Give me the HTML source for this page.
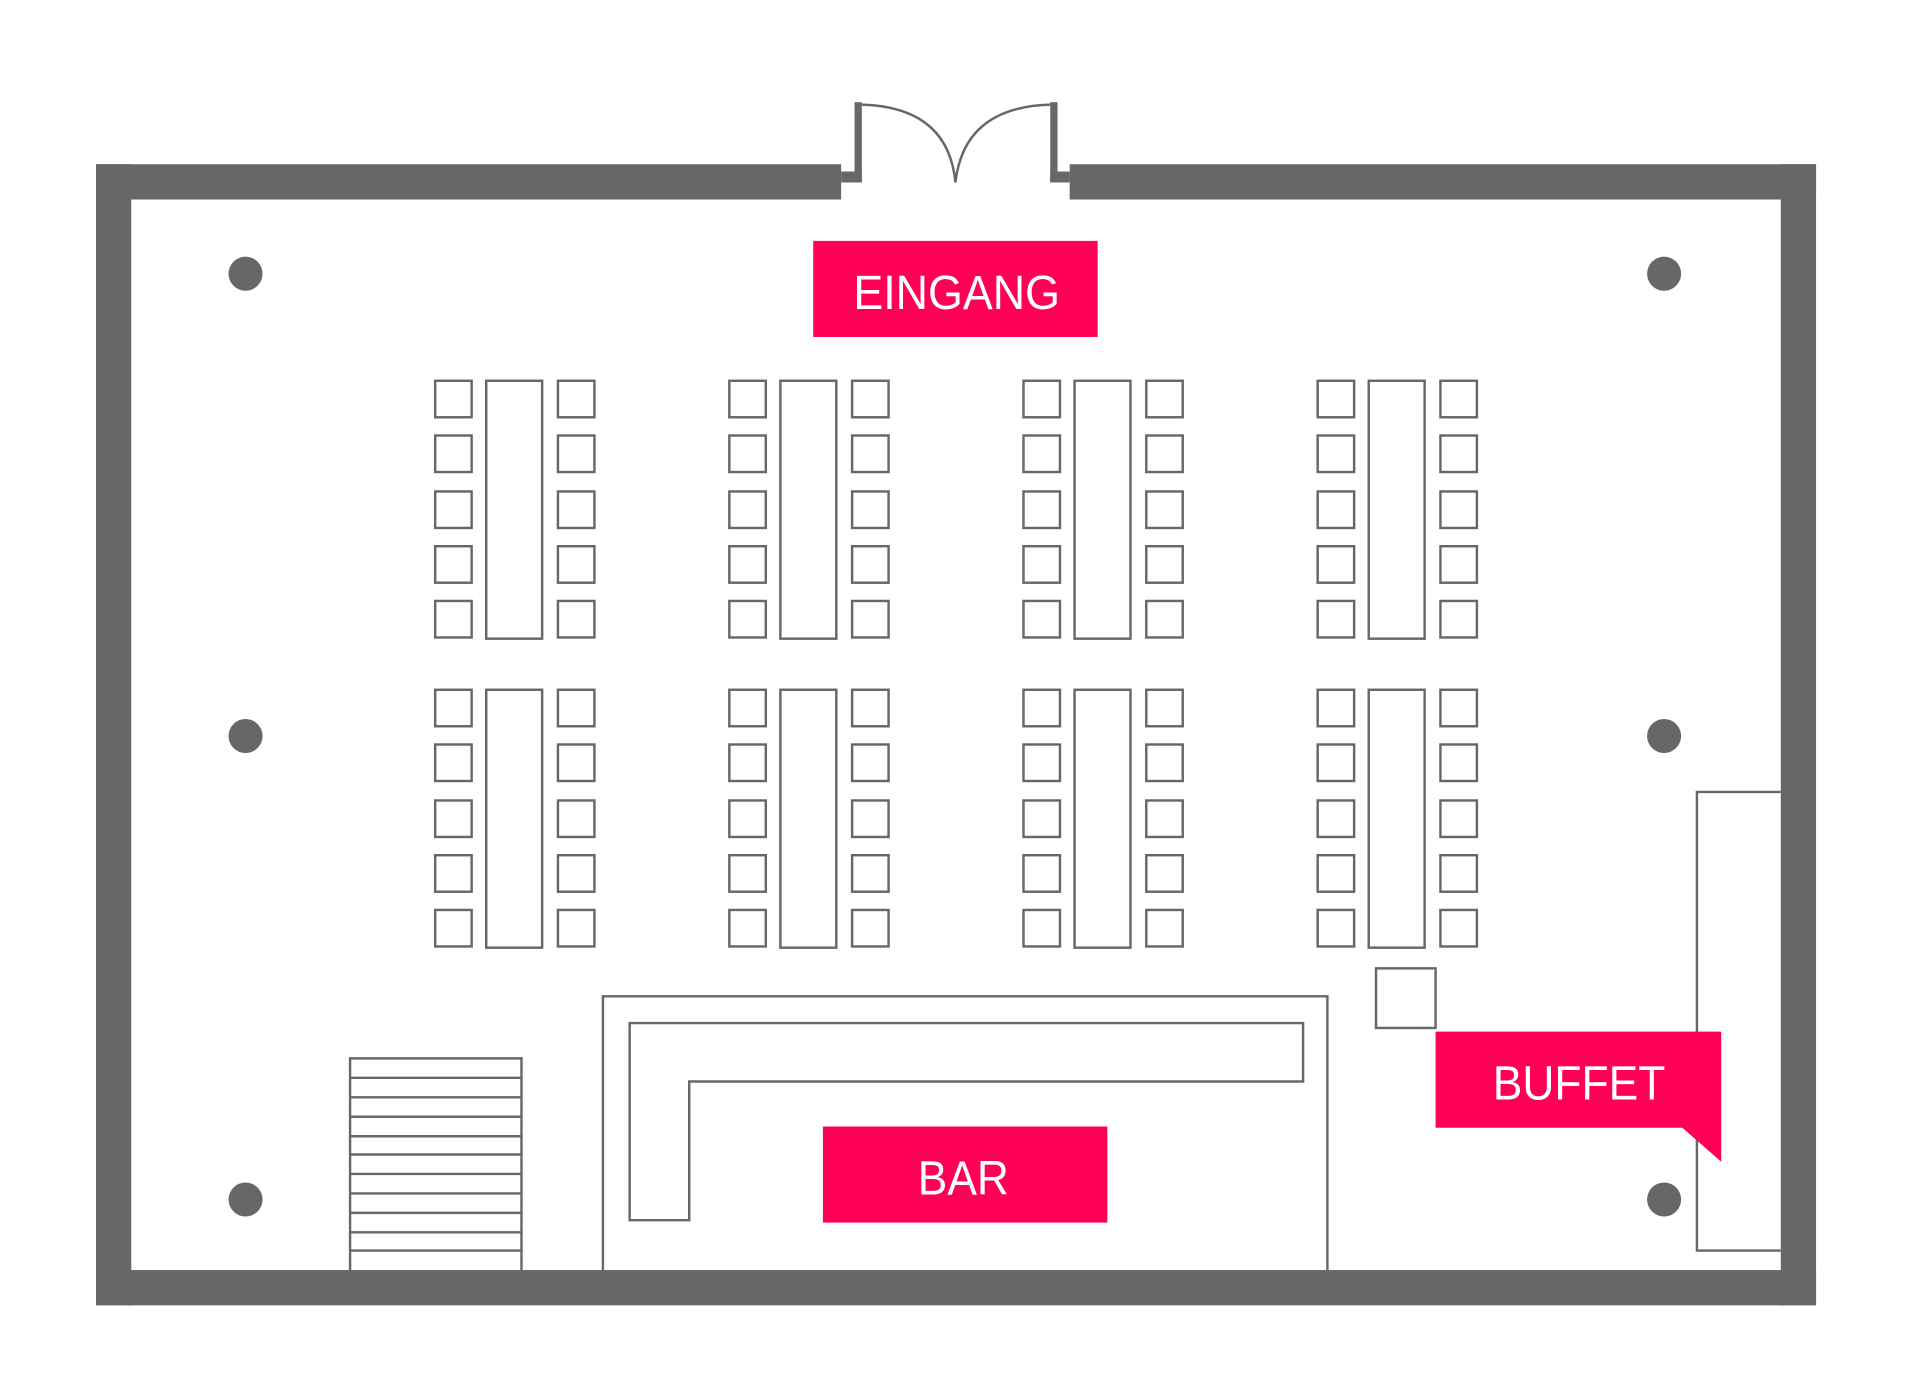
<!DOCTYPE html>
<html><head><meta charset="utf-8"><style>html,body{margin:0;padding:0;background:#fff}svg{display:block}</style></head><body>
<svg width="1906" height="1399" viewBox="0 0 1568 1150" preserveAspectRatio="none" xmlns="http://www.w3.org/2000/svg">
<g fill="#676767">
<rect x="79" y="135" width="613" height="29"/>
<rect x="880" y="135" width="614" height="29"/>
<rect x="79" y="135" width="29" height="938"/>
<rect x="1465" y="135" width="29" height="938"/>
<rect x="79" y="1044" width="1415" height="29"/>
<rect x="703" y="84" width="6" height="66"/>
<rect x="692" y="141" width="17" height="9"/>
<rect x="864" y="84" width="6" height="66"/>
<rect x="864" y="141" width="16" height="9"/>
<circle cx="202" cy="225" r="14"/><circle cx="1369" cy="225" r="14"/>
<circle cx="202" cy="605" r="14"/><circle cx="1369" cy="605" r="14"/>
<circle cx="202" cy="986" r="14"/><circle cx="1369" cy="986" r="14"/>
</g>
<g fill="none" stroke="#676767" stroke-width="2">
<path d="M709 86 Q780 88 786 150"/>
<path d="M864 86 Q793 88 786 150"/>
<rect x="1132" y="796" width="49" height="49"/>
<path d="M496 1044 V819 H1092 V1044"/>
<path d="M518 841 H1072 V889 H567 V1003 H518 Z"/>
<path d="M288 1044 V870 H429 V1044"/>
<path d="M288 886H429M288 902H429M288 918H429M288 934H429M288 949H429M288 965H429M288 981H429M288 997H429M288 1013H429M288 1028H429"/>
<path d="M1465 651 H1396 V1028 H1465"/>
</g>
<g fill="none" stroke="#676767" stroke-width="2" id="g">
</g>
<script>
(function(){var g=document.getElementById('g'),ns='http://www.w3.org/2000/svg';
function r(x,y,w,h){var e=document.createElementNS(ns,'rect');e.setAttribute('x',x);e.setAttribute('y',y);e.setAttribute('width',w);e.setAttribute('height',h);g.appendChild(e);}
[358,600,842,1084].forEach(function(x){[313,567].forEach(function(y0){
r(x+42,y0,46,212);
[0,45,91,136,181].forEach(function(d){r(x,y0+d,30,30);r(x+101,y0+d,30,30);});
});});})();
</script>
<g fill="#ff0055">
<rect x="669" y="198" width="234" height="79"/>
<rect x="677" y="926" width="234" height="79"/>
<path d="M1181 848 H1416 V955 L1384 927 H1181 Z"/>
</g>
<g fill="#fff" font-family="Liberation Sans, sans-serif" font-size="40">
<text x="702" y="254" textLength="170" lengthAdjust="spacingAndGlyphs">EINGANG</text>
<text x="755" y="982" textLength="75" lengthAdjust="spacingAndGlyphs">BAR</text>
<text x="1228" y="904" textLength="142" lengthAdjust="spacingAndGlyphs">BUFFET</text>
</g>
</svg>
</body></html>
